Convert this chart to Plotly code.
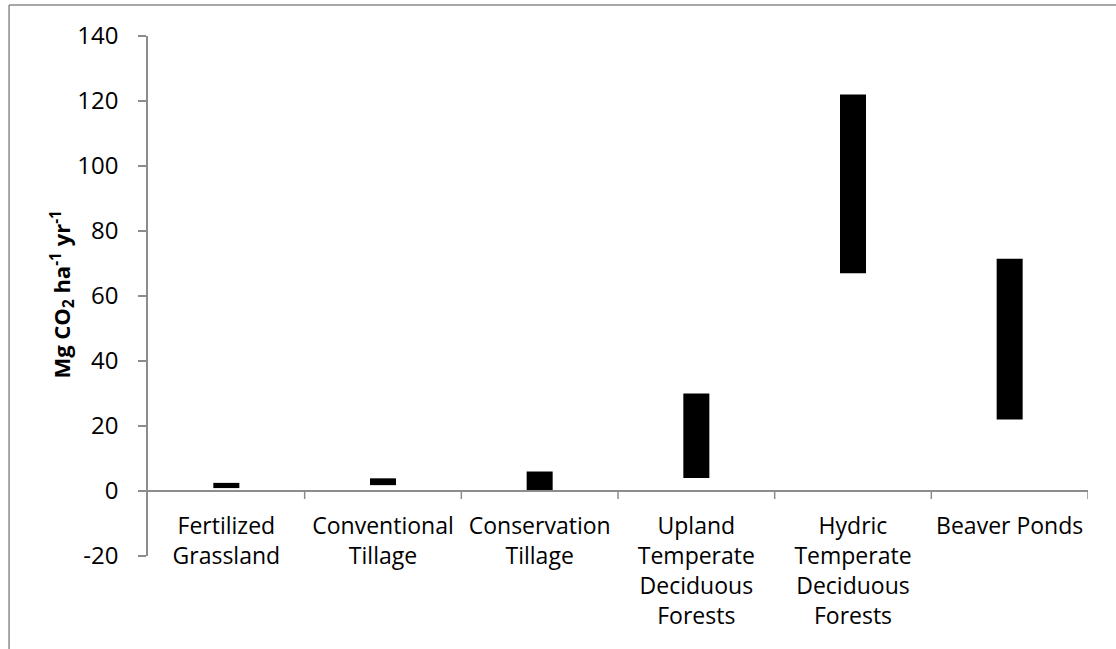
import plotly.graph_objects as go

categories = ["Fertilized<br>Grassland", "Conventional<br>Tillage", "Conservation<br>Tillage",
              "Upland<br>Temperate<br>Deciduous<br>Forests", "Hydric<br>Temperate<br>Deciduous<br>Forests",
              "Beaver Ponds"]
low_values = [0.9, 1.8, 0.0, 4.0, 67.0, 22.0]
high_values = [2.5, 3.9, 6.0, 30.0, 122.0, 71.5]
y_ticks = [-20, 0, 20, 40, 60, 80, 100, 120, 140]
y_tick_text = ["-20", "0", "20", "40", "60", "80", "100", "120", "140"]

W, H = 1116, 649
plot_left, plot_right, plot_top, plot_bottom = 147.5, 1088, 36, 556
L = plot_left
T = plot_top
R = W - plot_right
B = H - plot_bottom
pw, ph = W - L - R, H - T - B

def px_x(p):
    return (p - plot_left) / pw

def px_y(p):
    return (plot_bottom - p) / ph

heights = [h - l for h, l in zip(high_values, low_values)]

fig = go.Figure(go.Bar(
    x=list(range(len(categories))), y=heights, base=low_values,
    width=0.166, marker=dict(color="black", line=dict(width=0)),
))

axis_color = "#8c8c8c"
font_family = "Open Sans, Arial, sans-serif"

zero_pos = (0 - (-20)) / (140 - (-20))

fig.update_layout(
    width=W, height=H,
    margin=dict(l=L, r=R, t=T, b=B, autoexpand=False),
    paper_bgcolor="white", plot_bgcolor="white",
    showlegend=False,
    font=dict(family=font_family, size=23, color="black"),
    xaxis=dict(
        type="linear", range=[-0.5, 5.5],
        tickmode="array", tickvals=list(range(len(categories))), ticktext=categories,
        showline=True, linecolor=axis_color, linewidth=1.5,
        ticks="", showgrid=False, zeroline=False,
        anchor="free", position=zero_pos, side="bottom",
        ticklabelstandoff=15,
        tickfont=dict(size=23),
    ),
    yaxis=dict(
        range=[-20, 140], tickmode="array", tickvals=y_ticks, ticktext=y_tick_text,
        showline=True, linecolor=axis_color, linewidth=1.5,
        ticks="outside", ticklen=8, tickcolor=axis_color, tickwidth=1.5,
        showgrid=False, zeroline=False,
        ticklabelstandoff=15,
        tickfont=dict(size=24),
    ),
)

# tick marks between categories on the x axis (at the zero line)
for b in [i + 0.5 for i in range(len(categories))]:
    fig.add_shape(type="line", xref="x", yref="paper", x0=b, x1=b,
                  y0=zero_pos, y1=zero_pos - 8 / ph, line=dict(color=axis_color, width=1.5))

# chart border (left and top)
fig.add_shape(type="line", xref="paper", yref="paper",
              x0=px_x(8.5), x1=px_x(8.5), y0=px_y(5), y1=px_y(670),
              line=dict(color="#8a8a8a", width=1.5))
fig.add_shape(type="line", xref="paper", yref="paper",
              x0=px_x(8.5), x1=px_x(1130), y0=px_y(5), y1=px_y(5),
              line=dict(color="#8a8a8a", width=1.5))

fig.add_annotation(
    text="<b>Mg CO<sub>2</sub> ha<sup>-1</sup> yr<sup>-1</sup></b>",
    xref="paper", yref="paper", x=px_x(61), y=px_y(295),
    xanchor="center", yanchor="middle", textangle=-90,
    showarrow=False, font=dict(size=22, family=font_family),
)

fig.write_html("out.html", config={"displayModeBar": False},
               post_script="document.body.style.margin='0';")
